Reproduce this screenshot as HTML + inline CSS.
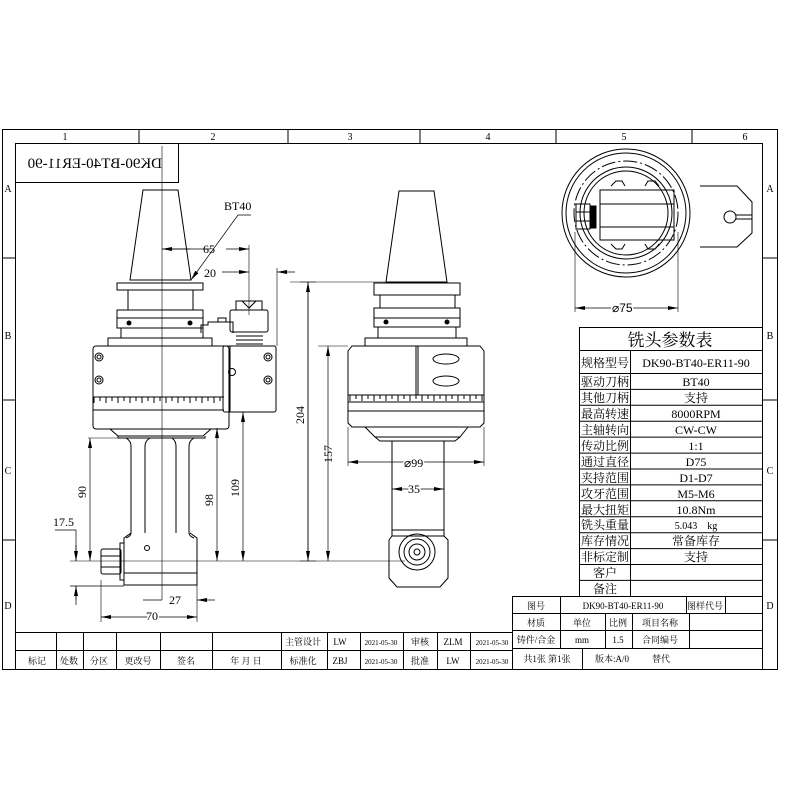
<!DOCTYPE html>
<html><head><meta charset="utf-8"><style>
html,body{margin:0;padding:0;background:#fff}
svg{display:block}
text{font-family:"Liberation Serif","Noto Serif CJK SC","Noto Sans CJK SC",serif;fill:#000}
.s{font-family:"Liberation Sans","Noto Sans CJK SC",sans-serif}
</style></head><body>
<svg width="800" height="800" viewBox="0 0 800 800" xmlns="http://www.w3.org/2000/svg">
<defs>
<marker id="a" viewBox="0 0 10 4" refX="10" refY="2" markerWidth="10" markerHeight="4" markerUnits="userSpaceOnUse" orient="auto-start-reverse"><path d="M0,0L10,2L0,4z" fill="#000"/></marker>
</defs>
<g fill="none" stroke="#000" stroke-width="1">
<rect x="2.5" y="129.5" width="775" height="540"/>
<rect x="15.5" y="143.5" width="747" height="526"/>
<path d="M139 129v14M288 129v14M420 129v14M556 129v14M692 129v14M2 258h13M2 400h13M2 540h13M762 258h15M762 400h15M762 540h15"/>
<path d="M15.5 182.5H178.5V143"/>
<path d="M15 632.5H513M15 650.5H513"/>
<path d="M56.5 632v37M83.5 632v37M116.5 632v37M160.5 632v37M212.5 632v37M281.5 632v37M327.5 632v37M360.5 632v37M403.5 632v37M437.5 632v37M470.5 632v37"/>
<rect x="579.5" y="327.5" width="183" height="269"/>
<path d="M579 350.5H762M630.5 350V596"/>
<path d="M579 373.5H762M579 389.4H762M579 405.3H762M579 421.2H762M579 437.1H762M579 453.1H762M579 469H762M579 484.9H762M579 500.8H762M579 516.8H762M579 532.7H762M579 548.6H762M579 564.5H762M579 580.4H762"/>
<path d="M512.5 596V669M512 596.5H762M512 613.5H762M512 630.5H762M512 648.5H762"/>
<path d="M560.5 596v52M686.5 596v17M725.5 596v17M605.5 613v35M632.5 613v35M689.5 613v35M582.5 648v21"/>
</g>
<text x="31" y="168" font-size="15" transform="translate(193 0) scale(-1 1)">DK90-BT40-ER11-90</text>
<g font-size="10" text-anchor="middle" class="s">
<text x="65" y="140">1</text><text x="213" y="140">2</text><text x="350" y="140">3</text><text x="488" y="140">4</text><text x="624" y="140">5</text><text x="745" y="140">6</text>
<text x="8" y="192">A</text><text x="8" y="339">B</text><text x="8" y="474">C</text><text x="8" y="609">D</text>
<text x="770" y="192">A</text><text x="770" y="339">B</text><text x="770" y="474">C</text><text x="770" y="609">D</text>
</g>
<g font-size="9" text-anchor="middle">
<text x="303" y="645">主管设计</text><text x="340" y="645">LW</text><text x="381" y="645" font-size="7">2021-05-30</text><text x="420" y="645">审核</text><text x="453" y="645">ZLM</text><text x="492" y="645" font-size="7">2021-05-30</text>
<text x="37" y="664">标记</text><text x="69" y="664">处数</text><text x="99" y="664">分区</text><text x="138" y="664">更改号</text><text x="186" y="664">签名</text><text x="246" y="664">年 月 日</text><text x="303" y="664">标准化</text><text x="340" y="664">ZBJ</text><text x="381" y="664" font-size="7">2021-05-30</text><text x="420" y="664">批准</text><text x="453" y="664">LW</text><text x="492" y="664" font-size="7">2021-05-30</text>
</g>
<g font-size="12" text-anchor="middle">
<text x="670" y="346" font-size="17">铣头参数表</text>
<text x="605" y="367">规格型号</text><text x="696" y="367">DK90-BT40-ER11-90</text>
<text x="605" y="386">驱动刀柄</text><text x="696" y="386">BT40</text>
<text x="605" y="402">其他刀柄</text><text x="696" y="402">支持</text>
<text x="605" y="418">最高转速</text><text x="696" y="418">8000RPM</text>
<text x="605" y="434">主轴转向</text><text x="696" y="434">CW-CW</text>
<text x="605" y="450">传动比例</text><text x="696" y="450">1:1</text>
<text x="605" y="466">通过直径</text><text x="696" y="466">D75</text>
<text x="605" y="482">夹持范围</text><text x="696" y="482">D1-D7</text>
<text x="605" y="498">攻牙范围</text><text x="696" y="498">M5-M6</text>
<text x="605" y="514">最大扭矩</text><text x="696" y="514">10.8Nm</text>
<text x="605" y="529">铣头重量</text><text x="696" y="529" font-size="10">5.043 &#160;&#160; kg</text>
<text x="605" y="545">库存情况</text><text x="696" y="545">常备库存</text>
<text x="605" y="561">非标定制</text><text x="696" y="561">支持</text>
<text x="605" y="577">客户</text>
<text x="605" y="593">备注</text>
</g>
<g font-size="9" text-anchor="middle">
<text x="536" y="609">图号</text><text x="623" y="609">DK90-BT40-ER11-90</text><text x="705" y="609">图样代号</text>
<text x="536" y="626">材质</text><text x="582" y="626">单位</text><text x="618" y="626">比例</text><text x="660" y="626">项目名称</text>
<text x="536" y="643">铸件/合金</text><text x="582" y="643">mm</text><text x="618" y="643">1.5</text><text x="660" y="643">合同编号</text>
<text x="547" y="662">共1张 第1张</text><text x="612" y="662">版本:A/0</text><text x="661" y="662">替代</text>
</g>

<g fill="none" stroke="#000" stroke-width="1">
<path d="M162 146V600" stroke-width="0.6"/>
<path d="M143 190H178L191 280H130Z"/>
<path d="M117 283H203V290H117Z M128 290H193V310H128Z M117 310H203V318H117Z M117 318H203V328H117Z M121 328H203V338H121Z M108 338H212V346H108Z"/>
<circle cx="129" cy="323" r="2" fill="#000"/><circle cx="190" cy="323" r="2" fill="#000"/>
<rect x="93" y="346" width="136" height="83" rx="3"/>
<path d="M93 397H224M93 410H224"/>
<path d="M94 397v6M100 397v4M106 397v6M112 397v4M118 397v6M124 397v4M130 397v6M136 397v4M142 397v6M148 397v4M154 397v6M160 397v4M166 397v6M172 397v4M178 397v6M184 397v4M190 397v6M196 397v4M202 397v6M208 397v4M214 397v6M220 397v4"/>
<circle cx="99" cy="357" r="4"/><circle cx="99" cy="357" r="2"/><circle cx="99" cy="380" r="4"/><circle cx="99" cy="380" r="2"/>
<rect x="223" y="346" width="53" height="66" rx="2"/>
<path d="M230 346V412"/>
<circle cx="268" cy="357" r="4"/><circle cx="268" cy="357" r="2"/><circle cx="268" cy="380" r="4"/><circle cx="268" cy="380" r="2"/>
<circle cx="232" cy="372" r="3.5"/>
<rect x="230" y="310" width="38" height="22" rx="2"/>
<path d="M236 332H263M236 336H263M236 340H263M236 344H263"/>
<path d="M236 310V301H262V310M242 301L249 308L256 301"/>
<path d="M201 333V325H208V322H233V333M218 322V318H226V322"/>
<path d="M110 429L118 436H203L211 429"/>
<path d="M118 436V438H205V436"/>
<path d="M126 438Q131 441 131 446V533Q131 536 126 538M145 446V533M145 446Q145 441 150 438"/>
<path d="M172 438Q176 441 176 446V533M189 446V533Q189 536 194 538M189 446Q189 441 194 438"/>
<path d="M131 533L124 538V585H197V538L190 533"/>
<path d="M124 573H197"/>
<circle cx="147" cy="548" r="2.5"/>
<rect x="101" y="549" width="20" height="25" rx="2"/>
<path d="M101 556H121M101 567H121"/>
<rect x="120" y="543" width="4" height="37"/>
<path d="M162 249H210M226 249H249" marker-end="url(#a)" stroke-width="0.7"/>
<path d="M162 249H190" marker-start="url(#a)" stroke-width="0.7"/>
<path d="M249 245V315" stroke-width="0.6"/>
<path d="M222 272H249" marker-end="url(#a)" stroke-width="0.7"/>
<path d="M295 272H277" marker-end="url(#a)" stroke-width="0.7"/>
<path d="M277 268V346" stroke-width="0.6"/>
<path d="M191 280L238 215H251" stroke-width="0.7" marker-start="url(#a)"/>
<path d="M290 282H316M70 561H316" stroke-width="0.6"/>
<path d="M308 282V561" stroke-width="0.7" marker-start="url(#a)" marker-end="url(#a)"/>
<path d="M243 412V561" stroke-width="0.7" marker-start="url(#a)" marker-end="url(#a)"/>
<path d="M217 428V561" stroke-width="0.7" marker-start="url(#a)" marker-end="url(#a)"/>
<path d="M90 438V561" stroke-width="0.7" marker-start="url(#a)" marker-end="url(#a)"/>
<path d="M88 438H131" stroke-width="0.6"/>
<path d="M76 542V561M76 605V586M70 586H124M55 530H76V542" stroke-width="0.7"/>
<path d="M76 545V561" marker-end="url(#a)" stroke-width="0.7"/>
<path d="M76 600V586" marker-end="url(#a)" stroke-width="0.7"/>
<path d="M143 600H162M215 600H197" marker-end="url(#a)" stroke-width="0.7"/>
<path d="M197 585V622M101 580V622" stroke-width="0.6"/>
<path d="M101 617H197" marker-start="url(#a)" marker-end="url(#a)" stroke-width="0.7"/>
</g>
<g font-size="12" class="s">
<text x="224" y="210">BT40</text>
<text x="203" y="253">65</text>
<text x="204" y="277">20</text>
<text x="53" y="526">17.5</text>
<text x="169" y="604">27</text>
<text x="146" y="620" style="paint-order:stroke" stroke="#fff" stroke-width="3">70</text>
<text transform="translate(304 424) rotate(-90)">204</text>
<text transform="translate(239 497) rotate(-90)">109</text>
<text transform="translate(213 506) rotate(-90)">98</text>
<text transform="translate(86 498) rotate(-90)">90</text>
</g>

<g fill="none" stroke="#000" stroke-width="1">
<path d="M399 191H434L447 282H386Z"/>
<path d="M374 283H460V295H374Z M380 295H455V308H380Z M374 308H460V318H374Z M374 318H460V327H374Z M378 327H456V338H378Z M365 338H467V346H365Z"/>
<circle cx="386" cy="322" r="2" fill="#000"/><circle cx="447" cy="322" r="2" fill="#000"/>
<path d="M348 351L352 346H480L484 351V423L480 427H352L348 423Z"/>
<path d="M416 346V395M418 346V395"/>
<path d="M348 395H484M348 402H484M348 411H484"/>
<path d="M350 395v6M356 395v4M362 395v6M368 395v4M374 395v6M380 395v4M386 395v6M392 395v4M398 395v6M404 395v4M410 395v6M416 395v4M422 395v6M428 395v4M434 395v6M440 395v4M446 395v6M452 395v4M458 395v6M464 395v4M470 395v6M476 395v4M482 395v6"/>
<ellipse cx="446" cy="359" rx="13" ry="5"/><ellipse cx="446" cy="381" rx="13" ry="5"/>
<path d="M365 427L375 437H460L468 427M375 437L380 441H455L460 437"/>
<path d="M392 441V530M444 441V530"/>
<path d="M392 530H444V536L448 540V578L440 587H397L389 578V540L392 536Z"/>
<path d="M392 536H444"/>
<circle cx="417" cy="552" r="18"/><circle cx="417" cy="552" r="13"/><circle cx="417" cy="552" r="8"/><circle cx="417" cy="552" r="3"/>
<path d="M300 282H386M318 346H348M300 561H405" stroke-width="0.6"/>
<path d="M308 282V561" stroke-width="0.7"/>
<path d="M328 346V561" stroke-width="0.7" marker-start="url(#a)" marker-end="url(#a)"/>
<path d="M348 427V466M484 427V466" stroke-width="0.6"/>
<path d="M348 462H484" stroke-width="0.7" marker-start="url(#a)" marker-end="url(#a)"/>
<path d="M392 489H444" stroke-width="0.7" marker-start="url(#a)" marker-end="url(#a)"/>
</g>
<g font-size="12" class="s">
<text transform="translate(332 463) rotate(-90)">157</text>
<text x="404" y="467" style="paint-order:stroke" stroke="#fff" stroke-width="3">⌀99</text>
<text x="408" y="493" style="paint-order:stroke" stroke="#fff" stroke-width="3">35</text>
</g>

<g fill="none" stroke="#000" stroke-width="1">
<circle cx="626" cy="213" r="64"/><circle cx="626" cy="213" r="60"/>
<circle cx="626" cy="213" r="52" stroke-dasharray="14 3 2 3"/>
<circle cx="626" cy="213" r="46"/><circle cx="626" cy="213" r="42"/>
<path d="M700 186H737L752 202V233L737 247H700"/>
<circle cx="730" cy="217" r="6"/>
<path d="M736 215H752M736 219H752"/>
<rect x="600" y="190" width="74" height="50"/>
<path d="M600 204H674M600 227H674"/>
<path d="M611 186L616 181H622L625 186M645 186L648 181H655L659 186M611 244L616 249H622L625 244M645 244L648 249H655L659 244"/>
<rect x="576" y="204" width="14" height="25"/><path d="M576 212H590M576 221H590"/>
<rect x="590" y="206" width="6" height="22" fill="#000"/>
<path d="M575 232V312M678 232V312" stroke-width="0.6"/>
<path d="M575 308H678" stroke-width="0.7" marker-start="url(#a)" marker-end="url(#a)"/>
</g>
<text x="612" y="312" font-size="12" class="s" style="paint-order:stroke" stroke="#fff" stroke-width="3">⌀75</text>
</svg>
</body></html>
